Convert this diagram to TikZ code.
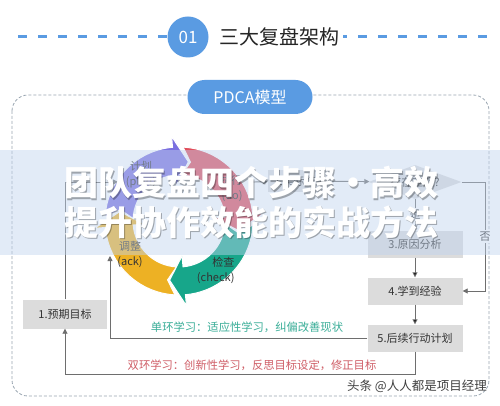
\documentclass[tikz,border=0pt]{standalone}
\usepackage{fontspec}
\setmainfont{Noto Sans CJK SC}
\usepackage{tikz}
\usetikzlibrary{positioning,shapes.geometric,arrows.meta}
\definecolor{accent}{HTML}{5A9BE2}
\definecolor{framegray}{HTML}{9AA6B2}
\definecolor{boxgray}{HTML}{DCDCDC}
\definecolor{linegray}{HTML}{6E6E6E}
\definecolor{textdark}{HTML}{333333}
\definecolor{pdcapurple}{HTML}{7B70E0}
\definecolor{pdcared}{HTML}{E04E5C}
\definecolor{pdcateal}{HTML}{17A68A}
\definecolor{pdcayellow}{HTML}{EDB124}
\definecolor{singleteal}{HTML}{3AAE98}
\definecolor{doublered}{HTML}{CF5D66}
\definecolor{bannerblue}{HTML}{BFD3EE}
\tikzset{
node distance=47pt, % centre to centre distance of the step boxes
>={Triangle[length=5pt,width=5pt]}, % small filled heads
}
\tikzset{
    stepbox/.style={fill=boxgray, minimum width=95pt, minimum height=27pt,
        text=textdark, font=\fontsize{11}{13}\selectfont},
    goalbox/.style={stepbox, minimum width=84pt, minimum height=29pt},
    resultbox/.style={stepbox, minimum width=64pt, minimum height=22pt},
    judge/.style={diamond, aspect=2.7, fill=boxgray, inner sep=0pt,
        minimum width=93pt, minimum height=34pt, text=textdark,
        font=\fontsize{11}{13}\selectfont},
    link/.style={draw=linegray, line width=0.9pt},
    edgelabel/.style={fill=white, inner sep=1.5pt, text=textdark,
        font=\fontsize{11}{13}\selectfont},
    ringlabel/.style={align=center, text=textdark,
        font=\fontsize{11}{15}\selectfont},
    titledash/.style={draw=accent, line width=3pt, dash pattern=on 9pt off 11pt},
    numdot/.style={circle, fill=accent, minimum size=41pt, inner sep=0pt,
        text=white, font=\fontsize{17}{17}\selectfont},
    titletext/.style={fill=white, inner xsep=4pt, text=black!85,
        font=\fontsize{20}{20}\selectfont},
    frame/.style={draw=framegray, line width=0.8pt, dash pattern=on 3pt off 2pt,
        rounded corners=16pt},
    pill/.style={fill=accent, text=white, rounded corners=17pt,
        minimum width=125pt, minimum height=34pt, font=\fontsize{16}{16}\selectfont},
    looplabel/.style={font=\fontsize{11.3}{13}\selectfont},
    headline/.style={text=white, font=\fontsize{34}{34}\selectfont\bfseries},
    headshadow/.style={headline, text=black, text opacity=0.3},
}
% one arrow of the ring: colour, base angle of the previous head, own head base
\newcommand{\pdcaarc}[3]{%
  \path[fill=#1, draw=white, line width=1pt]
    ({#2-8.16}:74) arc[start angle={#2-8.16}, end angle=#3, radius=74]
    -- (#3:85) -- ({#3-14}:60) -- (#3:35) -- (#3:46)
    arc[start angle=#3, end angle={#2-8.16}, radius=46]
    -- ({#2-16}:60) -- cycle;}

\begin{document}
\begin{tikzpicture}[x=1pt,y=-1pt,on grid]
\useasboundingbox[fill=white] (0,0) rectangle (500,406);
% heading
\draw[titledash] (18,37) -- (490,37);
\node[numdot] (num) at (188,37) {01};
\node[titletext] (title) at (279,37) {三大复盘架构};
% frame
\draw[frame] (12,95) rectangle (489,396);
\node[pill] (model) at (250,97) {PDCA模型};
% the ring
\begin{scope}[shift={(179,221)},yscale=-1]
  \pdcaarc{pdcayellow}{-85}{-175}
  \pdcaarc{pdcateal}{5}{-85}
  \pdcaarc{pdcared}{95}{5}
  \pdcaarc{pdcapurple}{185}{95}
\end{scope}
\node[ringlabel] (plan) at (141,175) {计划\\(plan)};
\node[ringlabel, align=right, anchor=east] (do) at (246,188) {执行\\(do)};
\node[ringlabel, align=right, anchor=east] (check) at (238,270) {检查\\(check)};
\node[ringlabel] (act) at (130,254) {调整\\(ack)};
% steps
\node[goalbox] (s_1) at (65,314) {1.预期目标};
\node[resultbox] (s_2) at (300,181) {2.实际结果};
\node[judge] (d) at (415,182) {存在差距?};
\node[stepbox] (s_3) at (415,244) {3.原因分析};
\node[stepbox] (s_4) [below=of s_3] {4.学到经验};
\node[stepbox] (s_5) [below=of s_4] {5.后续行动计划};
\coordinate (plan_in) at (118,182);
\coordinate (do_out) at (253,182);
\coordinate (act_in) at (110,256);
\coordinate (no_turn) at (485,182);
\draw[link,->] (s_1) |- (plan_in);
\draw[link,->] (do_out) -- (s_2);
\draw[link,->] (s_2) -- (d);
\draw[link,->] (d) -- (no_turn) |- node[edgelabel, pos=0.25] {否} (s_4);
\path[link,->]
  (d) edge node[edgelabel] {是} (s_3)
  (s_3) edge (s_4)
  (s_4) edge (s_5);
\draw[link,->] (s_5) -| (act_in);
\draw[link,->] (s_5.south) -- ++(0,23) -| (s_1);
\node[looplabel, text=singleteal] (single) at (247,327) {单环学习：适应性学习，纠偏改善现状};
\node[looplabel, text=doublered] (double) at (252,365) {双环学习：创新性学习，反思目标设定，修正目标};
% overlay band
\fill[bannerblue, fill opacity=0.45] (0,150) rectangle (500,255);
\node[headshadow] at (252.5,184.5) {团队复盘四个步骤・高效};
\node[headshadow] at (252.5,223.5) {提升协作效能的实战方法};
\node[headline] (head_1) at (251,183) {团队复盘四个步骤・高效};
\node[headline] (head_2) at (251,222) {提升协作效能的实战方法};
\node[text=black!75, font=\fontsize{12.5}{13}\selectfont] (mark) at (417,386) {头条 @人人都是项目经理};
\end{tikzpicture}
\end{document}
